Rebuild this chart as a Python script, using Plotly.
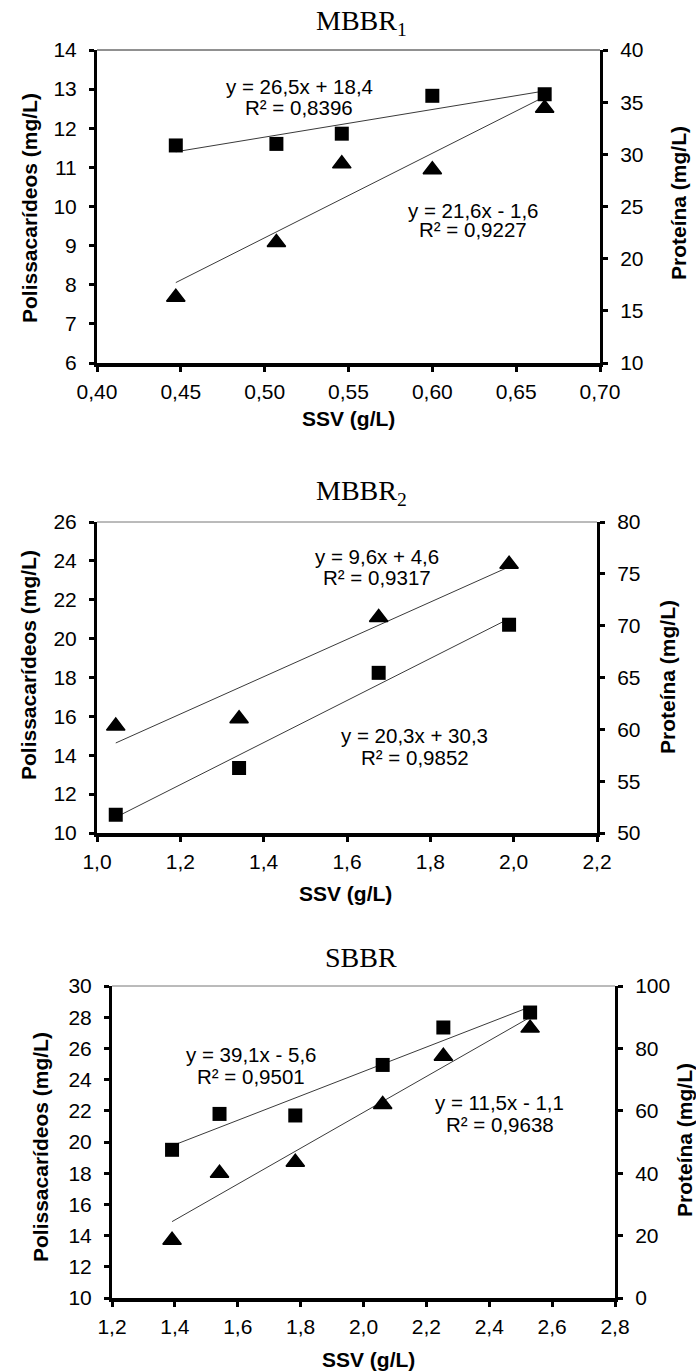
import plotly.graph_objects as go

W, H = 696, 1371

# ---------------- data ----------------
# MBBR1
ssv_1 = [0.447, 0.507, 0.546, 0.600, 0.667]
polis_1 = [7.68, 9.08, 11.09, 10.94, 12.51]      # Polissacarídeos (mg/L), left axis
prot_1 = [30.85, 31.0, 31.98, 35.61, 35.76]      # Proteína (mg/L), right axis
fit_polis_1 = (21.6, -1.6, "0,9227")
fit_prot_1 = (26.5, 18.4, "0,8396")

# MBBR2
ssv_2 = [1.045, 1.341, 1.676, 1.989]
polis_2 = [15.5, 15.88, 21.09, 23.83]
prot_2 = [51.76, 56.27, 65.45, 70.09]
fit_polis_2 = (9.6, 4.6, "0,9317")
fit_prot_2 = (20.3, 30.3, "0,9852")

# SBBR
ssv_3 = [1.391, 1.542, 1.783, 2.061, 2.254, 2.530]
polis_3 = [13.7, 18.0, 18.7, 22.4, 25.5, 27.3]
prot_3 = [47.5, 59.0, 58.5, 74.7, 86.7, 91.5]
fit_polis_3 = (11.5, -1.1, "0,9638")
fit_prot_3 = (39.1, -5.6, "0,9501")

titles = ["MBBR<sub>1</sub>", "MBBR<sub>2</sub>", "SBBR"]

# ---------------- layout helpers ----------------
SANS = "Liberation Sans, Arial, sans-serif"
SERIF = "Liberation Serif, Times New Roman, serif"


def px_x(p):
    return p / W


def px_y(p):
    return 1 - p / H


# plot-area pixel boxes: (left, right, top, bottom)
boxes = [(97, 600, 50, 363), (97, 597, 522, 833), (112, 615, 986, 1298)]
x_ranges = [(0.40, 0.70, 0.05, ".2f"), (1.0, 2.2, 0.2, ".1f"), (1.2, 2.8, 0.2, ".1f")]
yl_ranges = [(6, 14, 1), (10, 26, 2), (10, 30, 2)]
yr_ranges = [(10, 40, 5), (50, 80, 5), (0, 100, 20)]
top_border = ["#222222", "#777777", "#777777"]

fig = go.Figure()
layout = dict(
    width=W, height=H, autosize=False,
    margin=dict(l=0, r=0, t=0, b=0),
    paper_bgcolor="white", plot_bgcolor="white",
    showlegend=False, separators=",.",
    font=dict(family=SANS, size=21, color="black"),
)

annotations = []
shapes = []

tick_font = dict(family=SANS, size=21, color="black")

for i in range(3):
    l, r, t, b = boxes[i]
    xn = "xaxis" if i == 0 else f"xaxis{i + 1}"
    xr = "x" if i == 0 else f"x{i + 1}"
    yl_idx = 2 * i + 1
    yr_idx = 2 * i + 2
    yln = "yaxis" if yl_idx == 1 else f"yaxis{yl_idx}"
    ylr = "y" if yl_idx == 1 else f"y{yl_idx}"
    yrn = f"yaxis{yr_idx}"

    x0, x1, dx, fmt = x_ranges[i]
    layout[xn] = dict(
        domain=[px_x(l), px_x(r)], range=[x0, x1], dtick=dx, tick0=x0,
        tickformat=fmt, anchor=ylr, showgrid=False, zeroline=False,
        showline=True, linecolor="black", linewidth=4,
        ticks="outside", ticklen=5, tickwidth=3, tickcolor="black",
        tickfont=tick_font, ticklabelstandoff=2, automargin=False,
    )
    a0, a1, da = yl_ranges[i]
    layout[yln] = dict(
        domain=[px_y(b), px_y(t)], range=[a0, a1], dtick=da, tick0=a0,
        anchor=xr, showgrid=False, zeroline=False,
        showline=True, linecolor="black", linewidth=3,
        ticks="outside", ticklen=5, tickwidth=3, tickcolor="black",
        tickfont=tick_font, ticklabelstandoff=8, automargin=False,
    )
    c0, c1, dc = yr_ranges[i]
    layout[yrn] = dict(
        overlaying=ylr, side="right", range=[c0, c1], dtick=dc, tick0=c0,
        anchor=xr, showgrid=False, zeroline=False,
        showline=True, linecolor="black", linewidth=3,
        ticks="outside", ticklen=5, tickwidth=3, tickcolor="black",
        tickfont=tick_font, ticklabelstandoff=8, automargin=False,
    )

    # thin top border of the plot area
    shapes.append(dict(type="line", xref=f"{xr} domain", yref=f"{ylr} domain",
                       x0=0, x1=1, y0=1, y1=1,
                       line=dict(color=top_border[i], width=1)))

layout["shapes"] = shapes

panels = [
    (ssv_1, polis_1, prot_1, fit_polis_1, fit_prot_1),
    (ssv_2, polis_2, prot_2, fit_polis_2, fit_prot_2),
    (ssv_3, polis_3, prot_3, fit_polis_3, fit_prot_3),
]

line_style = dict(color="#3a3a3a", width=1)

for i, (xs, pol, pro, fpol, fpro) in enumerate(panels):
    xr = "x" if i == 0 else f"x{i + 1}"
    ylr = "y" if i == 0 else f"y{2 * i + 1}"
    yrr = f"y{2 * i + 2}"
    xfit = [min(xs), max(xs)]

    # linear trend lines
    fig.add_trace(go.Scatter(x=xfit, y=[fpol[0] * v + fpol[1] for v in xfit],
                             mode="lines", line=line_style, xaxis=xr, yaxis=ylr,
                             hoverinfo="skip"))
    fig.add_trace(go.Scatter(x=xfit, y=[fpro[0] * v + fpro[1] for v in xfit],
                             mode="lines", line=line_style, xaxis=xr, yaxis=yrr,
                             hoverinfo="skip"))
    # measured points
    fig.add_trace(go.Scatter(x=xs, y=pol, mode="markers", name="Polissacarídeos",
                             marker=dict(symbol="triangle-up", size=16, color="black",
                                         line=dict(color="black", width=1.5)),
                             xaxis=xr, yaxis=ylr))
    fig.add_trace(go.Scatter(x=xs, y=pro, mode="markers", name="Proteína",
                             marker=dict(symbol="square", size=14, color="black"),
                             xaxis=xr, yaxis=yrr))


def fmt_num(v):
    return f"{abs(v):.1f}".replace(".", ",")


def eq_text(fit):
    slope, icpt, _ = fit
    sign = "+" if icpt >= 0 else "-"
    return f"y = {fmt_num(slope)}x {sign} {fmt_num(icpt)}"


# equation label positions (in data units of the left axis)
eq_pos = [
    [(fit_prot_1, 0.5205, 13.08, 12.53), (fit_polis_1, 0.624, 9.91, 9.40)],
    [(fit_polis_2, 1.672, 24.25, 23.12), (fit_prot_2, 1.763, 15.04, 13.86)],
    [(fit_prot_3, 1.643, 25.58, 24.19), (fit_polis_3, 2.434, 22.53, 21.10)],
]
eq_font = dict(family=SANS, size=20.5, color="black")
for i, items in enumerate(eq_pos):
    xr = "x" if i == 0 else f"x{i + 1}"
    ylr = "y" if i == 0 else f"y{2 * i + 1}"
    for fit, ax, ay1, ay2 in items:
        annotations.append(dict(x=ax, y=ay1, xref=xr, yref=ylr, text=eq_text(fit),
                                showarrow=False, font=eq_font,
                                xanchor="center", yanchor="middle"))
        annotations.append(dict(x=ax, y=ay2, xref=xr, yref=ylr, text=f"R² = {fit[2]}",
                                showarrow=False, font=eq_font,
                                xanchor="center", yanchor="middle"))

# panel titles and axis titles (pixel positions)
title_y = [22, 492, 957]
ssv_pos = [(348, 418), (345, 893), (368, 1359)]
left_title_pos = [(29, 208), (29, 665), (40, 1147)]
right_title_pos = [(678, 203), (667, 677), (684, 1140)]
bold = dict(family=SANS, size=21, color="black")
for i in range(3):
    annotations.append(dict(x=px_x(361), y=px_y(title_y[i]), xref="paper", yref="paper",
                            text=titles[i], showarrow=False,
                            font=dict(family=SERIF, size=28, color="black"),
                            xanchor="center", yanchor="middle"))
    annotations.append(dict(x=px_x(ssv_pos[i][0]), y=px_y(ssv_pos[i][1]),
                            xref="paper", yref="paper", text="<b>SSV (g/L)</b>",
                            showarrow=False, font=bold,
                            xanchor="center", yanchor="middle"))
    annotations.append(dict(x=px_x(left_title_pos[i][0]), y=px_y(left_title_pos[i][1]),
                            xref="paper", yref="paper",
                            text="<b>Polissacarídeos (mg/L)</b>", textangle=-90,
                            showarrow=False, font=bold,
                            xanchor="center", yanchor="middle"))
    annotations.append(dict(x=px_x(right_title_pos[i][0]), y=px_y(right_title_pos[i][1]),
                            xref="paper", yref="paper",
                            text="<b>Proteína (mg/L)</b>", textangle=-90,
                            showarrow=False, font=bold,
                            xanchor="center", yanchor="middle"))

layout["annotations"] = annotations
fig.update_layout(**layout)
fig.write_html("out.html")
